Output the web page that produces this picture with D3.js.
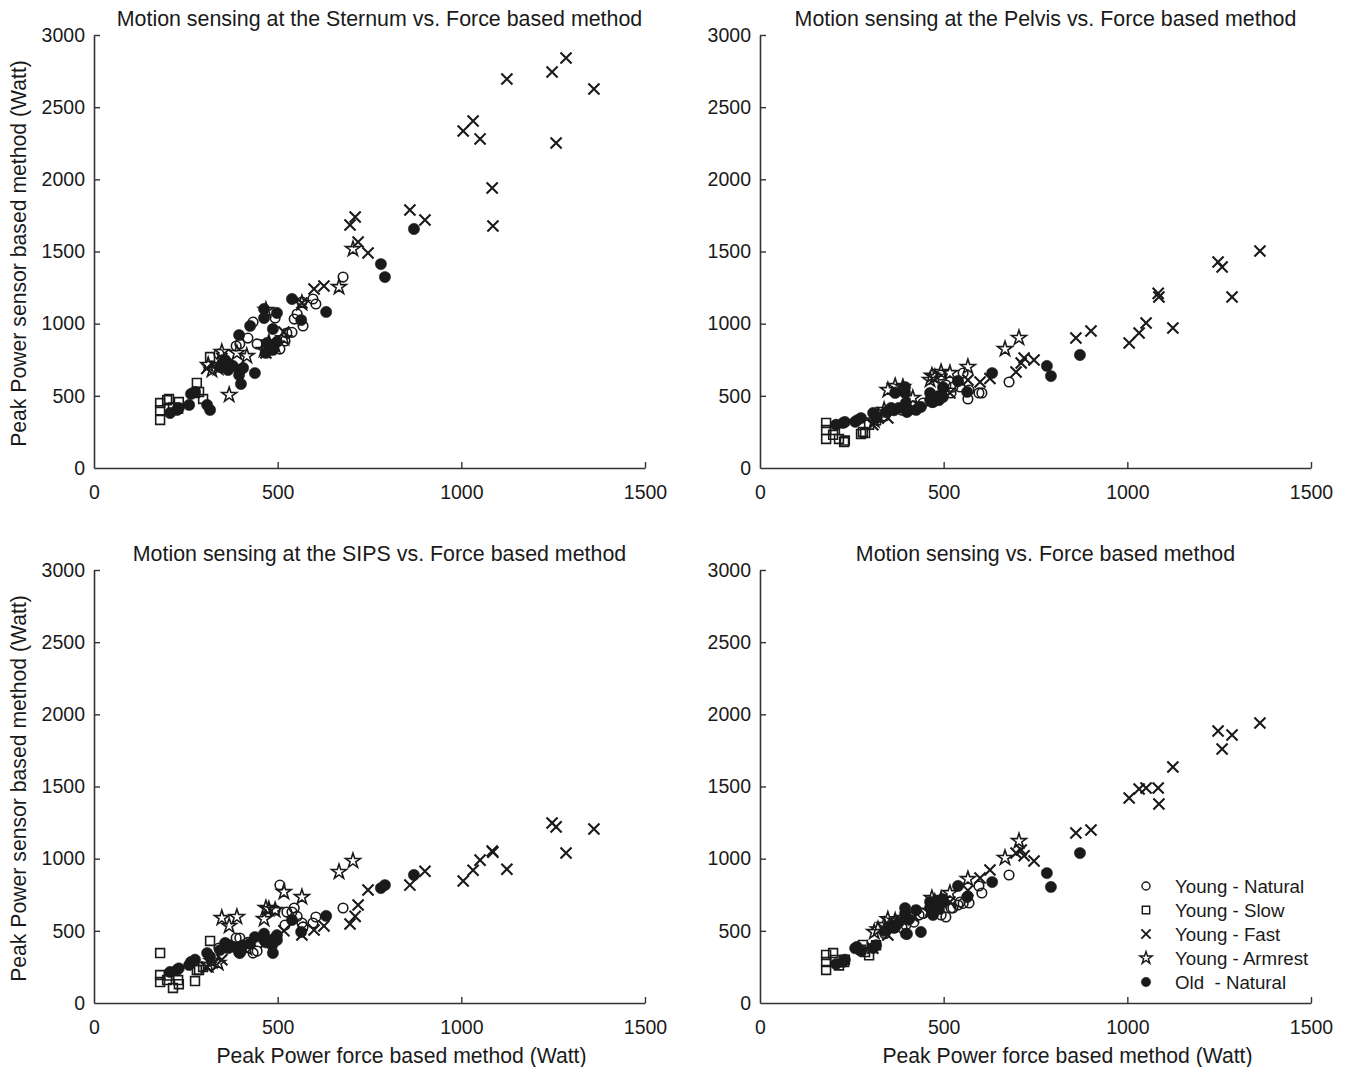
<!DOCTYPE html>
<html>
<head>
<meta charset="utf-8">
<script src="https://cdn.jsdelivr.net/npm/d3@7"></script>
<style>
    body { margin: 0; background: #fff; }
    text { font-family: "Liberation Sans", Arial, sans-serif; fill: #1a1a1a; }
</style>
</head>
<body>
<script>
// categories, titles and ticks
var groupNames = ["Young - Natural", "Young - Slow", "Young - Fast", "Young - Armrest", "Old  - Natural"];
var panelTitles = [
    "Motion sensing at the Sternum vs. Force based method",
    "Motion sensing at the Pelvis vs. Force based method",
    "Motion sensing at the SIPS vs. Force based method",
    "Motion sensing vs. Force based method"
];
var xTicks = [0, 500, 1000, 1500];
var yTicks = [0, 500, 1000, 1500, 2000, 2500, 3000];

// force based peak power (x), shared by all panels
var forceYN = [340, 387, 397, 419, 433, 444, 493, 506, 520, 525, 539, 545, 553, 566, 569, 596, 604, 678];
var forceYS = [180, 180, 180, 199, 204, 215, 229, 231, 275, 280, 286, 297, 316];
var forceYF = [307, 348, 468, 517, 566, 599, 626, 697, 711, 719, 746, 860, 901, 1005, 1032, 1051, 1084, 1086, 1124, 1247, 1258, 1285, 1361];
var forceYA = [311, 321, 338, 348, 368, 389, 416, 463, 468, 476, 493, 517, 566, 667, 705];
var forceON = [207, 226, 231, 259, 264, 275, 308, 316, 343, 357, 365, 368, 378, 395, 395, 397, 400, 406, 425, 438, 463, 463, 468, 471, 485, 487, 487, 498, 498, 539, 564, 632, 781, 792, 871];

// sensor at the sternum
var sternumYN = [790, 845, 860, 900, 1011, 860, 1039, 824, 880, 935, 940, 1032, 1067, 1150, 984, 1171, 1136, 1323];
var sternumYS = [333, 450, 400, 470, 478, 420, 410, 457, 520, 589, 527, 478, 769];
var sternumYF = [690, 760, 797, 942, 1143, 1240, 1261, 1684, 1739, 1566, 1490, 1788, 1718, 2335, 2404, 2280, 1940, 1677, 2695, 2744, 2252, 2841, 2626];
var sternumYA = [714, 679, 693, 804, 506, 797, 776, 818, 1095, 870, 850, 900, 1143, 1254, 1517];
var sternumON = [381, 402, 416, 437, 513, 527, 437, 402, 700, 748, 679, 720, 707, 921, 644, 679, 582, 693, 984, 658, 1102, 1039, 797, 866, 838, 963, 818, 1074, 873, 1171, 1025, 1081, 1413, 1323, 1656];

// sensor at the pelvis
var pelvisYN = [360, 400, 420, 430, 423, 450, 644, 575, 520, 560, 600, 561, 658, 478, 540, 520, 520, 596];
var pelvisYS = [312, 263, 201, 230, 263, 201, 180, 190, 236, 250, 242, 300, 330];
var pelvisYF = [300, 346, 470, 520, 610, 596, 620, 665, 727, 762, 748, 901, 949, 866, 935, 1005, 1210, 1185, 970, 1427, 1393, 1185, 1503];
var pelvisYA = [330, 360, 402, 540, 568, 561, 485, 610, 640, 630, 665, 658, 700, 824, 901];
var pelvisON = [300, 312, 319, 320, 330, 346, 381, 346, 388, 416, 400, 520, 416, 520, 561, 450, 388, 402, 402, 423, 471, 520, 457, 457, 492, 500, 470, 492, 560, 603, 527, 658, 707, 637, 783];

// sensor at the SIPS
var sipsYN = [381, 450, 450, 420, 346, 360, 644, 817, 540, 630, 630, 658, 600, 554, 527, 554, 596, 658];
var sipsYS = [346, 194, 145, 159, 190, 104, 159, 130, 152, 229, 229, 250, 430];
var sipsYF = [249, 300, 420, 500, 471, 506, 534, 547, 600, 679, 783, 817, 913, 845, 920, 990, 1053, 1045, 927, 1247, 1220, 1039, 1206];
var sipsYA = [263, 290, 277, 589, 534, 596, 380, 582, 658, 650, 644, 769, 734, 908, 984];
var sipsON = [215, 229, 240, 263, 284, 300, 346, 320, 367, 416, 380, 400, 390, 388, 350, 346, 360, 400, 410, 457, 436, 480, 420, 436, 400, 346, 440, 436, 470, 575, 492, 603, 796, 817, 887];

// motion sensing (combined)
var allYN = [480, 520, 540, 560, 610, 620, 610, 596, 658, 658, 679, 700, 690, 741, 693, 811, 762, 887];
var allYS = [333, 284, 229, 346, 298, 260, 284, 300, 370, 402, 353, 330, 400];
var allYF = [380, 471, 640, 700, 780, 866, 921, 1039, 1060, 1020, 984, 1178, 1199, 1420, 1483, 1490, 1490, 1379, 1635, 1885, 1760, 1857, 1940];
var allYA = [492, 510, 540, 580, 570, 589, 610, 640, 727, 700, 720, 762, 859, 1005, 1122];
var allON = [270, 285, 300, 380, 388, 360, 381, 400, 500, 540, 520, 527, 560, 658, 620, 480, 478, 580, 644, 492, 700, 660, 640, 610, 680, 650, 690, 720, 700, 811, 734, 838, 900, 804, 1039];

window.onload = function(){
    var w = 1350, h = 1067;
    var pw = 551, ph = 433; //plot area size
    var ink = "#1a1a1a";

    var svg = d3.select("body")
        .append("svg")
        .attr("width", w)
        .attr("height", h);

    //marker table built from the arrays above
    var groups = [
        {name: groupNames[0], symbol: d3.symbolCircle, size: 72, fill: "none", sw: 1.6, x: forceYN, ys: [sternumYN, pelvisYN, sipsYN, allYN]},
        {name: groupNames[1], symbol: d3.symbolSquare, size: 78, fill: "none", sw: 1.6, x: forceYS, ys: [sternumYS, pelvisYS, sipsYS, allYS]},
        {name: groupNames[2], symbol: d3.symbolTimes, size: 82, fill: "none", sw: 2.1, x: forceYF, ys: [sternumYF, pelvisYF, sipsYF, allYF]},
        {name: groupNames[3], symbol: d3.symbolStar, size: 68, fill: "none", sw: 1.6, x: forceYA, ys: [sternumYA, pelvisYA, sipsYA, allYA]},
        {name: groupNames[4], symbol: d3.symbolCircle, size: 100, fill: ink, sw: 0.5, x: forceON, ys: [sternumON, pelvisON, sipsON, allON]}
    ];

    var panels = [
        {left: 94, top: 35, yLabel: true, xLabel: false},
        {left: 760, top: 35, yLabel: false, xLabel: false},
        {left: 94, top: 570, yLabel: true, xLabel: true},
        {left: 760, top: 570, yLabel: false, xLabel: true}
    ];

    var x = d3.scaleLinear().domain([0, 1500]).range([0, pw]);
    var y = d3.scaleLinear().domain([0, 3000]).range([ph, 0]);

    panels.forEach(function(p, i){
        var g = svg.append("g")
            .attr("transform", "translate(" + p.left + "," + p.top + ")");

        //axes with inward ticks
        var xAxis = g.append("g")
            .attr("transform", "translate(0," + ph + ")")
            .call(d3.axisBottom(x).tickValues(xTicks).tickFormat(d3.format("d"))
                .tickSizeInner(-6).tickSizeOuter(0).tickPadding(17));
        var yAxis = g.append("g")
            .call(d3.axisLeft(y).tickValues(yTicks).tickFormat(d3.format("d"))
                .tickSizeInner(-6).tickSizeOuter(0).tickPadding(9));

        [xAxis, yAxis].forEach(function(a){
            a.select(".domain").attr("stroke", "#333").attr("stroke-width", 1.6);
            a.selectAll(".tick line").attr("stroke", "#333").attr("stroke-width", 1.4);
            a.selectAll(".tick text")
                .style("font-family", "'Liberation Sans', Arial, sans-serif")
                .style("font-size", "19.5px")
                .attr("fill", ink);
        });
        xAxis.selectAll(".tick").filter(function(d){ return d === 0; }).select("line").remove();
        yAxis.selectAll(".tick").filter(function(d){ return d === 0; }).select("line").remove();

        //title
        g.append("text")
            .attr("x", pw / 2 + 10)
            .attr("y", -9)
            .attr("text-anchor", "middle")
            .style("font-size", "21.4px")
            .text(panelTitles[i]);

        if (p.yLabel) {
            g.append("text")
                .attr("transform", "translate(-68," + (ph / 2 + 2) + ") rotate(-90)")
                .attr("text-anchor", "middle")
                .style("font-size", "21.2px")
                .text("Peak Power sensor based method (Watt)");
        }
        if (p.xLabel) {
            g.append("text")
                .attr("x", pw / 2 + 32)
                .attr("y", ph + 60)
                .attr("text-anchor", "middle")
                .style("font-size", "21.2px")
                .text("Peak Power force based method (Watt)");
        }

        //one layer of markers per group
        groups.forEach(function(grp){
            var pts = grp.x.map(function(d, j){
                return {x: d, y: grp.ys[i][j]};
            });
            g.append("g").selectAll("path")
                .data(pts)
                .enter()
                .append("path")
                .attr("transform", function(d){
                    return "translate(" + x(d.x) + "," + y(d.y) + ")";
                })
                .attr("d", d3.symbol().type(grp.symbol).size(grp.size))
                .attr("fill", grp.fill)
                .attr("stroke", ink)
                .attr("stroke-width", grp.sw);
        });
    });

    //legend inside the last panel
    var legend = svg.append("g")
        .attr("transform", "translate(1146,886)");
    var items = legend.selectAll("g")
        .data(groups)
        .enter()
        .append("g")
        .attr("transform", function(d, i){
            return "translate(0," + (i * 24) + ")";
        });
    items.append("path")
        .attr("d", function(d){
            return d3.symbol().type(d.symbol).size(d.size * 0.7)();
        })
        .attr("fill", function(d){ return d.fill; })
        .attr("stroke", ink)
        .attr("stroke-width", function(d){ return d.sw * 0.9; });
    items.append("text")
        .attr("x", 29)
        .attr("dy", "0.35em")
        .style("font-size", "18.7px")
        .style("white-space", "pre")
        .text(function(d){ return d.name; });
};
</script>
</body>
</html>
